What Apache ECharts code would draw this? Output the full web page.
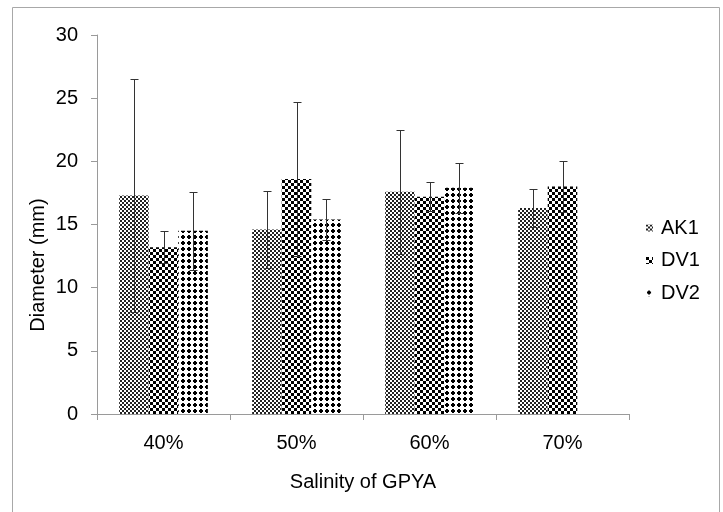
<!DOCTYPE html>
<html>
<head>
<meta charset="utf-8">
<script src="https://cdn.jsdelivr.net/npm/echarts@6/dist/echarts.min.js"></script>
<style>html,body{margin:0;padding:0;background:#fff}#c{width:723px;height:512px}</style>
</head>
<body>
<div id="c"></div>
<script>
const categories = ['40%', '50%', '60%', '70%'];
const seriesNames = ['AK1', 'DV1', 'DV2'];
const AK1 = [17.3, 14.6, 17.6, 16.3];
const DV1 = [13.2, 18.6, 17.2, 18.0];
const DV2 = [14.5, 15.4, 17.9, null];
const AK1err = [9.2, 3.05, 4.9, 1.5];
const DV1err = [1.25, 6.1, 1.15, 2.0];
const DV2err = [3.1, 1.65, 2.0, null];
const yTicks = [0, 5, 10, 15, 20, 25, 30];

function makePattern(kind) {
  const c = document.createElement('canvas');
  const ctx = c.getContext('2d');
  if (kind === 0) {
    c.width = 4; c.height = 4;
    ctx.fillStyle = '#fff'; ctx.fillRect(0, 0, 4, 4);
    ctx.fillStyle = '#222';
    ctx.fillRect(0, 0, 2, 2); ctx.fillRect(2, 2, 2, 2);
  } else if (kind === 1) {
    c.width = 6; c.height = 6;
    ctx.fillStyle = '#fff'; ctx.fillRect(0, 0, 6, 6);
    ctx.fillStyle = '#000';
    ctx.fillRect(0, 0, 3, 3); ctx.fillRect(3, 3, 3, 3);
  } else {
    c.width = 6; c.height = 6;
    ctx.fillStyle = '#fff'; ctx.fillRect(0, 0, 6, 6);
    ctx.fillStyle = '#000';
    ctx.fillRect(2, 1, 2, 4); ctx.fillRect(1, 2, 4, 2);
  }
  return { image: c, repeat: 'repeat' };
}

const values = [AK1, DV1, DV2];
const errs = [AK1err, DV1err, DV2err];
const font = 'Liberation Sans, Arial, sans-serif';

const chart = echarts.init(document.getElementById('c'), null, { renderer: 'canvas' });

const series = [];
seriesNames.forEach((name, i) => {
  series.push({
    name: name,
    type: 'bar',
    data: values[i],
    barGap: '0%',
    barCategoryGap: '33.3%',
    itemStyle: { color: makePattern(i) },
    emphasis: { disabled: true },
    animation: false
  });
});
seriesNames.forEach((name, i) => {
  const d = [];
  values[i].forEach((v, ci) => { if (v != null && errs[i][ci] != null) d.push([ci, v, errs[i][ci]]); });
  series.push({
    type: 'custom',
    name: name + ' err',
    data: d,
    z: 5,
    animation: false,
    silent: true,
    encode: { x: 0, y: 1 },
    renderItem: function (params, api) {
      const ci = api.value(0), v = api.value(1), e = api.value(2);
      const bw = api.size([1, 0])[0] * (1 - 0.333) / 3;
      const c = api.coord([ci, v]);
      const x = Math.round(c[0] + (i - 1) * bw) + 0.5;
      const top = Math.round(api.coord([ci, v + e])[1]) + 0.5;
      const bot = Math.round(api.coord([ci, v - e])[1]) + 0.5;
      const st = { stroke: '#333', lineWidth: 1 };
      return {
        type: 'group',
        children: [
          { type: 'line', shape: { x1: x, y1: top, x2: x, y2: bot }, style: st },
          { type: 'line', shape: { x1: x - 4, y1: top, x2: x + 4, y2: top }, style: st },
          { type: 'line', shape: { x1: x - 4, y1: bot, x2: x + 4, y2: bot }, style: st }
        ]
      };
    }
  });
});

chart.setOption({
  animation: false,
  backgroundColor: '#fff',
  textStyle: { fontFamily: font },
  grid: { left: 97, right: 94, top: 35, bottom: 98, containLabel: false },
  legend: {
    data: seriesNames,
    orient: 'vertical',
    left: 641,
    top: 213,
    itemWidth: 7,
    itemHeight: 7,
    itemGap: 12.5,
    icon: 'rect',
    textStyle: { fontSize: 20, color: '#000', fontFamily: font, lineHeight: 20, padding: [0, 0, 0, 3] },
    selectedMode: false
  },
  xAxis: {
    type: 'category',
    data: categories,
    name: 'Salinity of GPYA',
    nameLocation: 'middle',
    nameGap: 58,
    nameTextStyle: { fontSize: 20, color: '#000', fontFamily: font },
    axisLine: { lineStyle: { color: '#9a9a9a' } },
    axisTick: { show: true, length: 6, lineStyle: { color: '#9a9a9a' } },
    axisLabel: { fontSize: 20, color: '#000', margin: 19, fontFamily: font },
    splitLine: { show: false }
  },
  yAxis: {
    type: 'value',
    min: yTicks[0],
    max: yTicks[yTicks.length - 1],
    interval: 5,
    axisLine: { show: true, lineStyle: { color: '#9a9a9a' } },
    axisTick: { show: true, length: 6, lineStyle: { color: '#9a9a9a' } },
    axisLabel: { fontSize: 20, color: '#000', margin: 19, fontFamily: font },
    splitLine: { show: false }
  },
  graphic: [
    {
      type: 'rect',
      shape: { x: 12.5, y: 7.5, width: 707, height: 520 },
      style: { fill: null, stroke: '#a8a8a8', lineWidth: 1 },
      silent: true, z: -1
    },
    {
      type: 'text',
      x: 38, y: 265,
      rotation: Math.PI / 2,
      style: {
        text: 'Diameter (mm)',
        fontSize: 20,
        fontFamily: font,
        fill: '#000',
        align: 'center',
        verticalAlign: 'middle'
      }
    }
  ],
  series: series
});
</script>
</body>
</html>
